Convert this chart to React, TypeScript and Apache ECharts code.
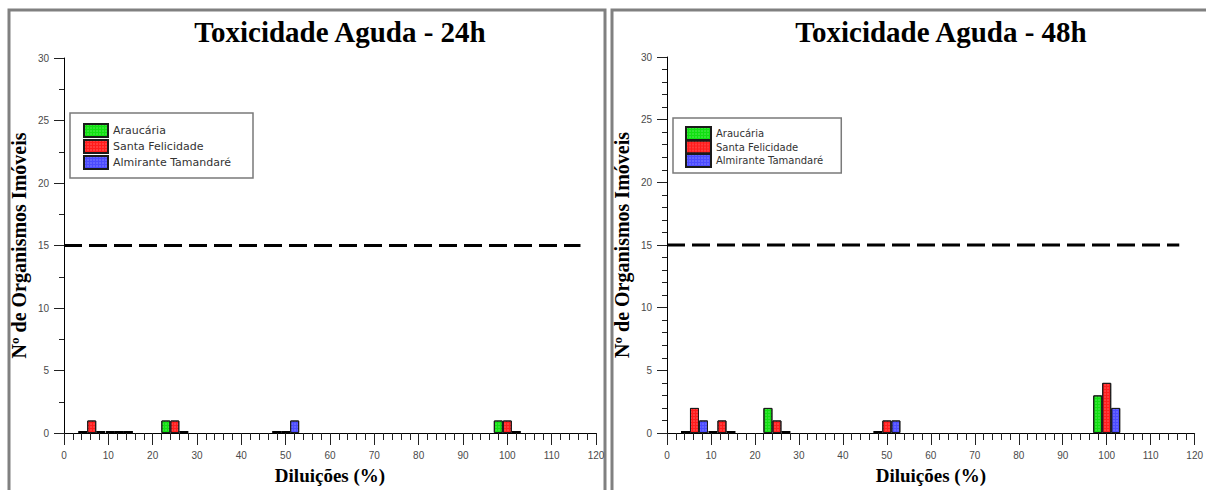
import React, { useEffect, useRef } from "react";
import * as echarts from "echarts";

const dilutions = [6.25, 12.5, 25, 50, 100];
const seriesNames = ["Araucária", "Santa Felicidade", "Almirante Tamandaré"];
const araucaria24 = [0, 0, 1, 0, 1];
const santaFelicidade24 = [1, 0, 1, 0, 1];
const almirante24 = [0, 0, 0, 1, 0];
const araucaria48 = [0, 0, 2, 0, 3];
const santaFelicidade48 = [2, 1, 1, 1, 4];
const almirante48 = [1, 0, 0, 1, 2];
const limitValue = 15;
const limitStart = 0;
const limitEnd = 116.5;
const titles = ["Toxicidade Aguda - 24h", "Toxicidade Aguda - 48h"];
const xName = "Diluições (%)";
const yName = "Nº de Organismos Imóveis";

const colors = ["#11e011", "#ff1c1c", "#4b4bff"];

const serif = "'Liberation Serif', 'Times New Roman', serif";
const sans = "'DejaVu Sans', sans-serif";
const tickFont = "'Liberation Sans', Arial, sans-serif";

function mkX(gridIndex: number) {
  return {
    type: "value",
    gridIndex,
    min: 0,
    max: 120,
    interval: 10,
    axisLine: { show: true, lineStyle: { color: "#000", width: 1 } },
    axisTick: { show: true, length: 12, lineStyle: { color: "#222" } },
    minorTick: { show: true, splitNumber: 5, length: 7, lineStyle: { color: "#222" } },
    splitLine: { show: false },
    minorSplitLine: { show: false },
    axisLabel: { fontSize: 10, color: "#4a4a4a", margin: 17, fontFamily: tickFont },
    name: xName,
    nameLocation: "middle",
    nameGap: 33,
    nameTextStyle: { fontFamily: serif, fontWeight: "bold", fontSize: 19, color: "#000" },
  };
}

function mkY(gridIndex: number, minorSplit: number) {
  return {
    type: "value",
    gridIndex,
    min: 0,
    max: 30,
    interval: 5,
    axisLine: { show: true, lineStyle: { color: "#000", width: 1 } },
    axisTick: { show: true, length: 10, lineStyle: { color: "#222" } },
    minorTick: { show: true, splitNumber: minorSplit, length: 5, lineStyle: { color: "#222" } },
    splitLine: { show: false },
    minorSplitLine: { show: false },
    axisLabel: { fontSize: 10, color: "#4a4a4a", margin: 15, fontFamily: tickFont },
    name: yName,
    nameLocation: "middle",
    nameGap: 35,
    nameRotate: 90,
    nameTextStyle: { fontFamily: serif, fontWeight: "bold", fontSize: 20, color: "#000" },
  };
}

function mkBar(name: string, values: number[], color: string, gi: number) {
  return {
    type: "bar",
    name,
    xAxisIndex: gi,
    yAxisIndex: gi,
    barWidth: 9,
    barGap: "0%",
    barMinHeight: 2,
    itemStyle: {
      color,
      borderColor: "#1a1a1a",
      borderWidth: 1,
      decal: {
        symbol: "circle",
        symbolSize: 0.7,
        dashArrayX: [2, 1],
        dashArrayY: [2, 1],
        color: "rgba(255,255,255,0.35)",
      },
    },
    data: dilutions.map((d, i) =>
      values[i] === 0
        ? { value: [d, 0], itemStyle: { color: "#000", borderWidth: 0, decal: "none" } }
        : [d, values[i]]
    ),
  };
}

function mkLimit(gi: number) {
  return {
    type: "line",
    xAxisIndex: gi,
    yAxisIndex: gi,
    symbol: "none",
    silent: true,
    lineStyle: { color: "#000", width: 3, type: [18, 7] },
    data: [
      [limitStart, limitValue],
      [limitEnd, limitValue],
    ],
  };
}

export default function App() {
  const ref = useRef<HTMLDivElement>(null);
  useEffect(() => {
    if (!ref.current) return;
    const chart = echarts.init(ref.current, null, { renderer: "svg" });
    const option: any = {
      animation: false,
      backgroundColor: "#fff",
      title: [
        {
          text: titles[0],
          left: 335,
          top: 12,
          textAlign: "center",
          textStyle: { fontFamily: serif, fontWeight: "bold", fontSize: 29, color: "#000" },
        },
        {
          text: titles[1],
          left: 936,
          top: 12,
          textAlign: "center",
          textStyle: { fontFamily: serif, fontWeight: "bold", fontSize: 29, color: "#000" },
        },
      ],
      grid: [
        { left: 64, top: 58, width: 532, height: 377 },
        { left: 667, top: 57, width: 531, height: 378 },
      ],
      xAxis: [mkX(0), mkX(1)],
      yAxis: [mkY(0, 2), mkY(1, 5)],
      legend: [
        {
          data: seriesNames,
          orient: "vertical",
          left: 70,
          top: 113,
          icon: "rect",
          itemWidth: 24,
          itemHeight: 13,
          itemGap: 1,
          padding: [10, 22, 8, 13],
          borderColor: "#7a7a7a",
          borderWidth: 1.5,
          selectedMode: false,
          textStyle: { fontFamily: sans, fontSize: 11, color: "#333" },
        },
        {
          data: seriesNames,
          orient: "vertical",
          left: 673,
          top: 118,
          icon: "rect",
          itemWidth: 25,
          itemHeight: 13,
          itemGap: -1.5,
          padding: [8, 18, 5, 12],
          borderColor: "#7a7a7a",
          borderWidth: 1.5,
          selectedMode: false,
          textStyle: { fontFamily: sans, fontSize: 10, color: "#333" },
        },
      ],
      series: [
        mkBar(seriesNames[0], araucaria24, colors[0], 0),
        mkBar(seriesNames[1], santaFelicidade24, colors[1], 0),
        mkBar(seriesNames[2], almirante24, colors[2], 0),
        mkLimit(0),
        mkBar(seriesNames[0], araucaria48, colors[0], 1),
        mkBar(seriesNames[1], santaFelicidade48, colors[1], 1),
        mkBar(seriesNames[2], almirante48, colors[2], 1),
        mkLimit(1),
      ],
      graphic: [
        {
          type: "rect",
          silent: true,
          z: -10,
          shape: { x: 9, y: 10, width: 596, height: 500 },
          style: { fill: "none", stroke: "#808080", lineWidth: 3 },
        },
        {
          type: "rect",
          silent: true,
          z: -10,
          shape: { x: 612, y: 10, width: 600, height: 500 },
          style: { fill: "none", stroke: "#808080", lineWidth: 3 },
        },
      ],
    };
    chart.setOption(option);
    return () => chart.dispose();
  }, []);
  return (
    <div
      ref={ref}
      style={{ position: "absolute", left: 0, top: 0, width: 1206, height: 490 }}
    />
  );
}
